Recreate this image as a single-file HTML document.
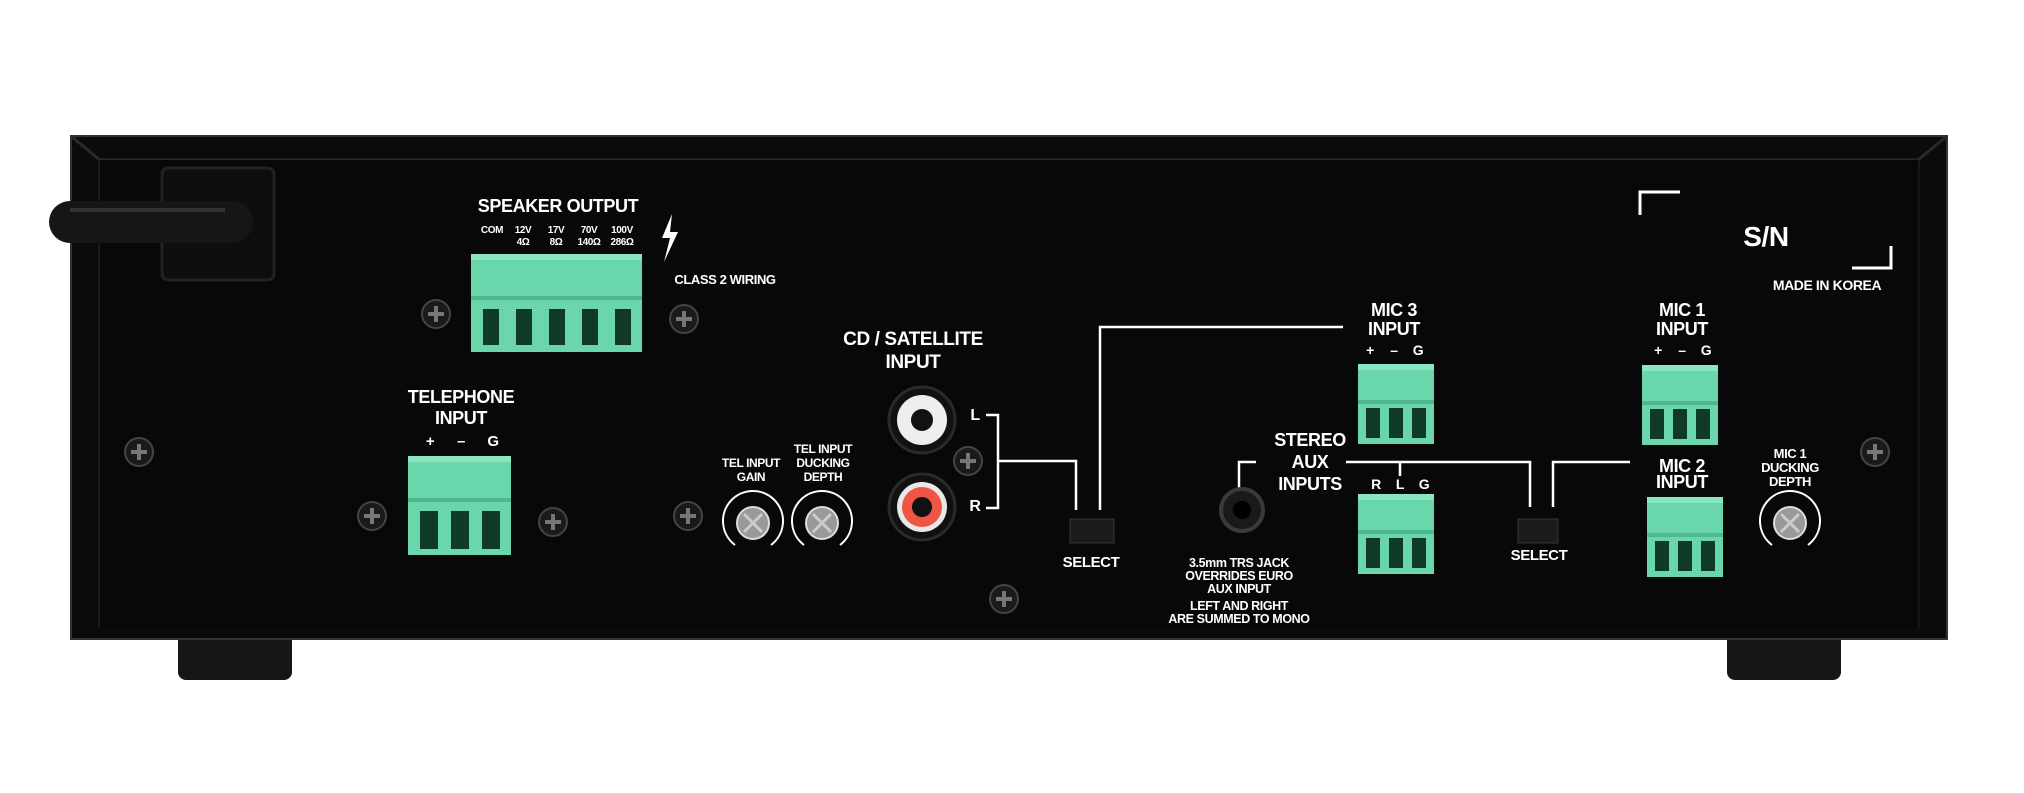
<!DOCTYPE html>
<html><head><meta charset="utf-8"><style>
html,body{margin:0;padding:0;background:#fff;width:2024px;height:793px;overflow:hidden}
svg text{font-family:"Liberation Sans Narrow","Liberation Sans",sans-serif;font-weight:bold;fill:#fff;text-anchor:middle;letter-spacing:-0.4px}
</style></head><body>
<svg width="2024" height="793" viewBox="0 0 2024 793" xmlns="http://www.w3.org/2000/svg">
<defs>
<g id="screw"><circle r="14" fill="#1a1a1a" stroke="#444" stroke-width="2"/><path d="M-8,0H8M0,-8V8" stroke="#777" stroke-width="4"/></g>
<g id="knob"><path d="M-18,22 A30,30 0 1 1 18,22" fill="none" stroke="#fff" stroke-width="2"/><circle r="16" fill="#999" stroke="#ddd" stroke-width="2"/><path d="M-9,-9L9,9M9,-9L-9,9" stroke="#ccc" stroke-width="3"/></g>
<g id="t3"><rect x="0" y="0" width="76" height="80" fill="#6ad6ab"/><rect x="0" y="0" width="76" height="6" fill="#8ae6c0"/><rect x="0" y="36" width="76" height="4" fill="#4fb88f"/><rect x="8" y="44" width="14" height="30" fill="#0f3a2a"/><rect x="31" y="44" width="14" height="30" fill="#0f3a2a"/><rect x="54" y="44" width="14" height="30" fill="#0f3a2a"/></g>
</defs>
<rect x="178" y="630" width="114" height="50" rx="8" fill="#161616"/>
<rect x="1727" y="630" width="114" height="50" rx="8" fill="#161616"/>
<rect x="71" y="136" width="1876" height="503" fill="#0b0b0b" stroke="#333" stroke-width="2"/>
<path d="M71,136 L100,160 H1918 L1947,136" fill="none" stroke="#2a2a2a" stroke-width="3"/>
<path d="M100,160 V628 M1918,160 V628" stroke="#1d1d1d" stroke-width="3"/>
<rect x="100" y="160" width="1818" height="468" fill="#080808"/>
<!-- power cable -->
<rect x="162" y="168" width="112" height="112" rx="6" fill="#0e0e0e" stroke="#222" stroke-width="3"/>
<path d="M70,222 H232" stroke="#161616" stroke-width="42" stroke-linecap="round"/>
<path d="M70,210 H225" stroke="#333" stroke-width="4"/>
<!-- speaker output -->
<text x="558" y="212" font-size="18">SPEAKER OUTPUT</text>
<g font-size="10"><text x="492" y="233">COM</text><text x="523" y="233">12V</text><text x="523" y="245">4Ω</text><text x="556" y="233">17V</text><text x="556" y="245">8Ω</text><text x="589" y="233">70V</text><text x="589" y="245">140Ω</text><text x="622" y="233">100V</text><text x="622" y="245">286Ω</text></g>
<path d="M672,214 L662,238 L670,238 L664,262 L678,232 L670,232 Z" fill="#fff"/>
<text x="725" y="284" font-size="13">CLASS 2 WIRING</text>
<g transform="translate(471,254)"><rect width="171" height="98" fill="#6ad6ab"/><rect width="171" height="6" fill="#8ae6c0"/><rect y="42" width="171" height="4" fill="#4fb88f"/>
<rect x="12" y="55" width="16" height="36" fill="#0f3a2a"/><rect x="45" y="55" width="16" height="36" fill="#0f3a2a"/><rect x="78" y="55" width="16" height="36" fill="#0f3a2a"/><rect x="111" y="55" width="16" height="36" fill="#0f3a2a"/><rect x="144" y="55" width="16" height="36" fill="#0f3a2a"/></g>
<use href="#screw" x="436" y="314"/><use href="#screw" x="684" y="319"/>
<!-- telephone -->
<text x="461" y="403" font-size="18">TELEPHONE</text><text x="461" y="424" font-size="18">INPUT</text>
<text x="430" y="446" font-size="15">+</text><text x="461" y="446" font-size="15">–</text><text x="493" y="446" font-size="15">G</text>
<g transform="translate(408,456)"><rect width="103" height="99" fill="#6ad6ab"/><rect width="103" height="6" fill="#8ae6c0"/><rect y="42" width="103" height="4" fill="#4fb88f"/><rect x="12" y="55" width="18" height="38" fill="#0f3a2a"/><rect x="43" y="55" width="18" height="38" fill="#0f3a2a"/><rect x="74" y="55" width="18" height="38" fill="#0f3a2a"/></g>
<use href="#screw" x="139" y="452"/><use href="#screw" x="372" y="516"/><use href="#screw" x="553" y="522"/>
<use href="#screw" x="688" y="516"/><use href="#screw" x="968" y="461"/><use href="#screw" x="1004" y="599"/><use href="#screw" x="1875" y="452"/>
<!-- tel knobs -->
<text x="751" y="467" font-size="12">TEL INPUT</text><text x="751" y="481" font-size="12">GAIN</text>
<text x="823" y="453" font-size="12">TEL INPUT</text><text x="823" y="467" font-size="12">DUCKING</text><text x="823" y="481" font-size="12">DEPTH</text>
<use href="#knob" x="753" y="523"/><use href="#knob" x="822" y="523"/>
<!-- CD -->
<text x="913" y="345" font-size="19">CD / SATELLITE</text><text x="913" y="368" font-size="19">INPUT</text>
<circle cx="922" cy="420" r="33" fill="#111" stroke="#2a2a2a" stroke-width="3"/><circle cx="922" cy="420" r="25" fill="#eee"/><circle cx="922" cy="420" r="11" fill="#111"/>
<circle cx="922" cy="507" r="33" fill="#111" stroke="#2a2a2a" stroke-width="3"/><circle cx="922" cy="507" r="25" fill="#e8e8e8"/><circle cx="922" cy="507" r="20" fill="#ee5544"/><circle cx="922" cy="507" r="10" fill="#111"/>
<text x="975" y="420" font-size="16">L</text><text x="975" y="511" font-size="16">R</text>
<g fill="none" stroke="#fff" stroke-width="2.5">
<path d="M986,415 H998 V508 H986 M998,461 H1076 V510"/>
<path d="M1100,510 V327 H1343"/>
<path d="M1239,491 V462 H1256 M1346,462 H1530 V507 M1400,462 V476"/>
<path d="M1553,507 V462 H1630"/>
</g>
<!-- selects -->
<rect x="1070" y="519" width="44" height="24" fill="#1c1c1c" stroke="#333"/>
<text x="1091" y="567" font-size="15">SELECT</text>
<rect x="1518" y="519" width="40" height="24" fill="#1c1c1c" stroke="#333"/>
<text x="1539" y="560" font-size="15">SELECT</text>
<!-- MIC3 -->
<text x="1394" y="316" font-size="18">MIC 3</text><text x="1394" y="335" font-size="18">INPUT</text>
<text x="1370" y="355" font-size="14">+</text><text x="1394" y="355" font-size="14">–</text><text x="1418" y="355" font-size="14">G</text>
<use href="#t3" x="1358" y="364"/>
<!-- stereo aux -->
<text x="1310" y="446" font-size="18">STEREO</text><text x="1310" y="468" font-size="18">AUX</text><text x="1310" y="490" font-size="18">INPUTS</text>
<text x="1376" y="489" font-size="14">R</text><text x="1400" y="489" font-size="14">L</text><text x="1424" y="489" font-size="14">G</text>
<use href="#t3" x="1358" y="494"/>
<circle cx="1242" cy="510" r="21" fill="#1a1a1a" stroke="#3a3a3a" stroke-width="4"/><circle cx="1242" cy="510" r="9" fill="#000"/>
<g font-size="12.5"><text x="1239" y="567">3.5mm TRS JACK</text><text x="1239" y="580">OVERRIDES EURO</text><text x="1239" y="593">AUX INPUT</text><text x="1239" y="610">LEFT AND RIGHT</text><text x="1239" y="623">ARE SUMMED TO MONO</text></g>
<!-- MIC2 -->
<text x="1682" y="472" font-size="18">MIC 2</text><text x="1682" y="488" font-size="18">INPUT</text>
<text x="1658" y="508" font-size="14">+</text><text x="1682" y="508" font-size="14">–</text><text x="1706" y="508" font-size="14">G</text>
<use href="#t3" x="1647" y="497"/>
<!-- MIC1 -->
<text x="1682" y="316" font-size="18">MIC 1</text><text x="1682" y="335" font-size="18">INPUT</text>
<text x="1658" y="355" font-size="14">+</text><text x="1682" y="355" font-size="14">–</text><text x="1706" y="355" font-size="14">G</text>
<use href="#t3" x="1642" y="365"/>
<text x="1790" y="458" font-size="13">MIC 1</text><text x="1790" y="472" font-size="13">DUCKING</text><text x="1790" y="486" font-size="13">DEPTH</text>
<use href="#knob" x="1790" y="523"/>
<!-- S/N -->
<path d="M1640,215 V192 H1680 M1852,268 H1891 V246" fill="none" stroke="#fff" stroke-width="3"/>
<text x="1766" y="246" font-size="28" font-weight="normal">S/N</text>
<text x="1827" y="290" font-size="14">MADE IN KOREA</text>
</svg>
</body></html>
